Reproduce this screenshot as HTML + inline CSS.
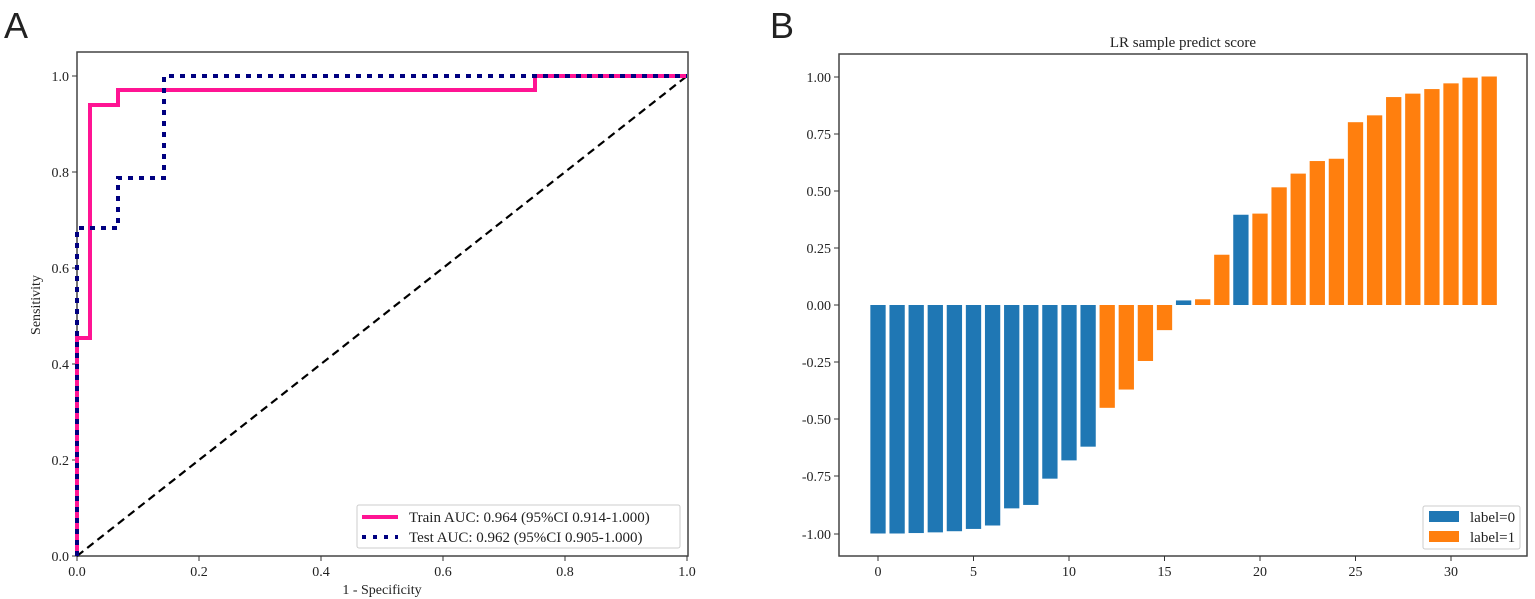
<!DOCTYPE html>
<html><head><style>body{margin:0;background:#fff}svg{display:block}text{font-family:"Liberation Serif",serif;fill:#222}</style></head>
<body>
<svg width="1535" height="599" viewBox="0 0 1535 599" xmlns="http://www.w3.org/2000/svg">
<text x="4" y="38" style="font-family:'Liberation Sans',sans-serif;font-size:36px">A</text>
<text x="770" y="38" style="font-family:'Liberation Sans',sans-serif;font-size:36px">B</text>
<!-- Panel A -->
<g>
<rect x="77" y="52" width="611" height="504" fill="#fff" stroke="#444" stroke-width="1.5"/>
<g stroke="#333" stroke-width="1">
<line x1="77" y1="556" x2="77" y2="561"/><line x1="199" y1="556" x2="199" y2="561"/><line x1="321" y1="556" x2="321" y2="561"/><line x1="443" y1="556" x2="443" y2="561"/><line x1="565" y1="556" x2="565" y2="561"/><line x1="687" y1="556" x2="687" y2="561"/>
<line x1="72" y1="556" x2="77" y2="556"/><line x1="72" y1="460" x2="77" y2="460"/><line x1="72" y1="364" x2="77" y2="364"/><line x1="72" y1="268" x2="77" y2="268"/><line x1="72" y1="172" x2="77" y2="172"/><line x1="72" y1="76" x2="77" y2="76"/>
</g>
<g font-size="14" text-anchor="middle">
<text x="77" y="576">0.0</text><text x="199" y="576">0.2</text><text x="321" y="576">0.4</text><text x="443" y="576">0.6</text><text x="565" y="576">0.8</text><text x="687" y="576">1.0</text>
</g>
<g font-size="14" text-anchor="end">
<text x="69" y="561">0.0</text><text x="69" y="465">0.2</text><text x="69" y="369">0.4</text><text x="69" y="273">0.6</text><text x="69" y="177">0.8</text><text x="69" y="81">1.0</text>
</g>
<text x="382" y="594" font-size="14" text-anchor="middle">1 - Specificity</text>
<text transform="translate(40,305) rotate(-90)" font-size="14" text-anchor="middle">Sensitivity</text>
<line x1="77" y1="556" x2="687" y2="76" stroke="#000" stroke-width="2.2" stroke-dasharray="8,5"/>
<polyline fill="none" stroke="#ff1493" stroke-width="4" points="77,556 77,338 90,338 90,105 118,105 118,90 535,90 535,76 687,76"/>
<polyline fill="none" stroke="#000080" stroke-width="4" stroke-dasharray="5,6" points="77,556 77,228 118,228 118,178 164,178 164,76 687,76"/>
<rect x="357" y="505" width="323" height="43" fill="#fff" stroke="#ccc" rx="2"/>
<line x1="362" y1="517" x2="398" y2="517" stroke="#ff1493" stroke-width="4"/>
<line x1="362" y1="537" x2="398" y2="537" stroke="#000080" stroke-width="4" stroke-dasharray="4,7"/>
<text x="409" y="522" font-size="15">Train AUC: 0.964 (95%CI 0.914-1.000)</text>
<text x="409" y="542" font-size="15">Test AUC: 0.962 (95%CI 0.905-1.000)</text>
</g>
<!-- Panel B -->
<g>
<rect x="839" y="54" width="688" height="502" fill="#fff" stroke="#444" stroke-width="1.5"/>
<text x="1183" y="47" font-size="15" text-anchor="middle">LR sample predict score</text>
<g stroke="#333" stroke-width="1">
<line x1="834" y1="77" x2="839" y2="77"/><line x1="834" y1="134" x2="839" y2="134"/><line x1="834" y1="191" x2="839" y2="191"/><line x1="834" y1="248" x2="839" y2="248"/><line x1="834" y1="305" x2="839" y2="305"/><line x1="834" y1="362" x2="839" y2="362"/><line x1="834" y1="419" x2="839" y2="419"/><line x1="834" y1="476" x2="839" y2="476"/><line x1="834" y1="534" x2="839" y2="534"/>
<line x1="878" y1="556" x2="878" y2="561"/><line x1="973.5" y1="556" x2="973.5" y2="561"/><line x1="1069" y1="556" x2="1069" y2="561"/><line x1="1164.5" y1="556" x2="1164.5" y2="561"/><line x1="1260" y1="556" x2="1260" y2="561"/><line x1="1355.5" y1="556" x2="1355.5" y2="561"/><line x1="1451" y1="556" x2="1451" y2="561"/>
</g>
<g font-size="14" text-anchor="end">
<text x="831" y="82">1.00</text><text x="831" y="139">0.75</text><text x="831" y="196">0.50</text><text x="831" y="253">0.25</text><text x="831" y="310">0.00</text><text x="831" y="367">-0.25</text><text x="831" y="424">-0.50</text><text x="831" y="481">-0.75</text><text x="831" y="539">-1.00</text>
</g>
<g font-size="14" text-anchor="middle">
<text x="878" y="576">0</text><text x="973.5" y="576">5</text><text x="1069" y="576">10</text><text x="1164.5" y="576">15</text><text x="1260" y="576">20</text><text x="1355.5" y="576">25</text><text x="1451" y="576">30</text>
</g>
<g id="bars"></g>
<rect x="1423" y="506" width="97" height="43" fill="#fff" stroke="#ccc" rx="2"/>
<rect x="1429" y="511" width="30" height="11" fill="#1f77b4"/>
<rect x="1429" y="531" width="30" height="11" fill="#ff7f0e"/>
<text x="1470" y="522" font-size="15">label=0</text>
<text x="1470" y="542" font-size="15">label=1</text>
</g>
</svg>
<script>
var v=[-1,-1,-0.998,-0.995,-0.99,-0.98,-0.965,-0.89,-0.875,-0.76,-0.68,-0.62,-0.45,-0.37,-0.245,-0.11,0.02,0.025,0.22,0.395,0.40,0.515,0.575,0.63,0.64,0.80,0.83,0.91,0.925,0.945,0.97,0.995,1.0];
var blue={16:1,19:1};for(var i=0;i<12;i++)blue[i]=1;
var g=document.getElementById('bars'),s='';
for(var i=0;i<v.length;i++){var cx=878+i*19.1,h=v[i]*228.5,y=h>0?305-h:305;
s+='<rect x="'+(cx-7.65)+'" y="'+y+'" width="15.3" height="'+Math.abs(h)+'" fill="'+(blue[i]?'#1f77b4':'#ff7f0e')+'"/>';}
g.innerHTML=s;
</script>
</body></html>
